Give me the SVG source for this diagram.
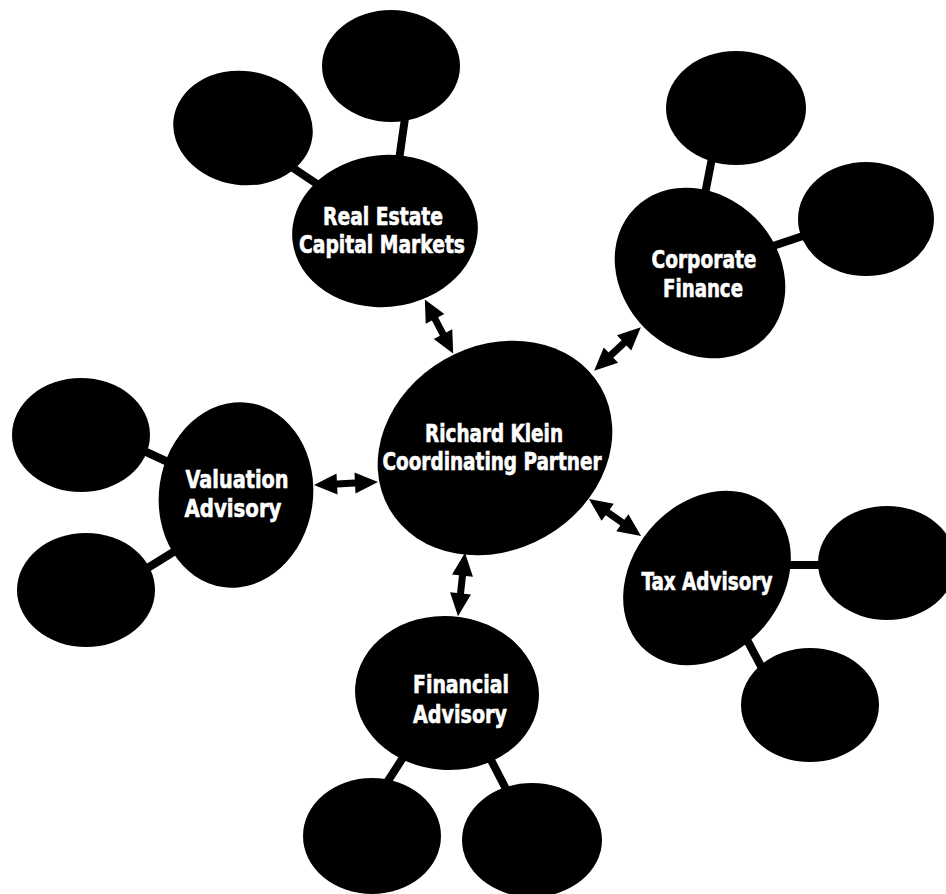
<svg xmlns="http://www.w3.org/2000/svg" xmlns:xlink="http://www.w3.org/1999/xlink" width="946" height="894" viewBox="0 0 946 894">
  <style>
    .blob { fill: #000; }
    .link { stroke: #000; stroke-width: 8; fill: none; stroke-linecap: butt; }
    .lbl { fill: #fff; stroke: #fff; stroke-width: 0.6; font-family: "Liberation Sans Narrow", "Arial Narrow", "DejaVu Sans Condensed", "Liberation Sans", sans-serif; font-weight: bold; font-size: 25px; text-anchor: middle; }
    .arrow { fill: #000; }
  </style>
  <defs>
    <!-- double-headed arrow, 64 long, centred on the origin along x -->
    <path id="dbl" d="M-32,0 L-9,-10.5 L-9,-3.5 L9,-3.5 L9,-10.5 L32,0 L9,10.5 L9,3.5 L-9,3.5 L-9,10.5 Z"/>
  </defs>

  <rect width="946" height="894" fill="#fff"/>

  <!-- connectors: stems to satellite bubbles and arrows to the partner -->
  <g id="connectors">
    <line class="link" x1="405" y1="118" x2="399" y2="160"/>
    <line class="link" x1="290" y1="166" x2="320" y2="186"/>
    <line class="link" x1="712" y1="158" x2="705" y2="194"/>
    <line class="link" x1="806" y1="235" x2="770" y2="247"/>
    <line class="link" x1="142" y1="450" x2="170" y2="463"/>
    <line class="link" x1="146" y1="569" x2="175" y2="551"/>
    <line class="link" x1="786" y1="565" x2="822" y2="565"/>
    <line class="link" x1="746" y1="638" x2="762" y2="668"/>
    <line class="link" x1="404" y1="756" x2="386" y2="784"/>
    <line class="link" x1="491" y1="760" x2="506" y2="789"/>

    <use class="arrow" xlink:href="#dbl" transform="translate(439,326.5) rotate(62.2) scale(0.95,1)"/>
    <use class="arrow" xlink:href="#dbl" transform="translate(617.5,349) rotate(-43.1)"/>
    <use class="arrow" xlink:href="#dbl" transform="translate(615,517.5) rotate(35.4)"/>
    <use class="arrow" xlink:href="#dbl" transform="translate(346,483.5) rotate(-2.7)"/>
    <use class="arrow" xlink:href="#dbl" transform="translate(461.5,584.5) rotate(96.3)"/>
  </g>

  <!-- central partner -->
  <g id="partner">
    <ellipse class="blob" cx="495" cy="448" rx="122" ry="102" transform="rotate(-30 495 448)"/>
    <text class="lbl" x="494" y="442" textLength="138" lengthAdjust="spacingAndGlyphs">Richard Klein</text>
    <text class="lbl" x="492" y="470" textLength="219" lengthAdjust="spacingAndGlyphs">Coordinating Partner</text>
  </g>

  <!-- Real Estate Capital Markets -->
  <g id="real-estate">
    <ellipse class="blob" cx="385" cy="231" rx="93" ry="76" transform="rotate(-6 385 231)"/>
    <text class="lbl" x="383" y="225" textLength="120" lengthAdjust="spacingAndGlyphs">Real Estate</text>
    <text class="lbl" x="382" y="253" textLength="166" lengthAdjust="spacingAndGlyphs">Capital Markets</text>
  </g>
  <g id="real-estate-a"><ellipse class="blob" cx="243" cy="128" rx="70" ry="57" transform="rotate(8 243 128)"/></g>
  <g id="real-estate-b"><ellipse class="blob" cx="391" cy="66" rx="69" ry="56"/></g>

  <!-- Corporate Finance -->
  <g id="corporate-finance">
    <ellipse class="blob" cx="700" cy="273" rx="92" ry="78" transform="rotate(45 700 273)"/>
    <text class="lbl" x="704" y="268" textLength="105" lengthAdjust="spacingAndGlyphs">Corporate</text>
    <text class="lbl" x="703" y="297" textLength="80" lengthAdjust="spacingAndGlyphs">Finance</text>
  </g>
  <g id="corporate-finance-a"><ellipse class="blob" cx="736" cy="108" rx="70" ry="57"/></g>
  <g id="corporate-finance-b"><ellipse class="blob" cx="866" cy="219" rx="68" ry="57"/></g>

  <!-- Valuation Advisory -->
  <g id="valuation">
    <ellipse class="blob" cx="236" cy="495" rx="77" ry="93" transform="rotate(8 236 495)"/>
    <text class="lbl" x="237" y="488" textLength="103" lengthAdjust="spacingAndGlyphs">Valuation</text>
    <text class="lbl" x="233" y="517" textLength="97" lengthAdjust="spacingAndGlyphs">Advisory</text>
  </g>
  <g id="valuation-a"><ellipse class="blob" cx="81" cy="435" rx="69" ry="57"/></g>
  <g id="valuation-b"><ellipse class="blob" cx="86" cy="590" rx="69" ry="57"/></g>

  <!-- Tax Advisory -->
  <g id="tax">
    <ellipse class="blob" cx="707" cy="578" rx="95" ry="75" transform="rotate(-50 707 578)"/>
    <text class="lbl" x="707" y="590" textLength="131" lengthAdjust="spacingAndGlyphs">Tax Advisory</text>
  </g>
  <g id="tax-a"><ellipse class="blob" cx="887" cy="563" rx="69" ry="57"/></g>
  <g id="tax-b"><ellipse class="blob" cx="810" cy="705" rx="69" ry="57"/></g>

  <!-- Financial Advisory -->
  <g id="financial">
    <ellipse class="blob" cx="447" cy="693" rx="92" ry="77" transform="rotate(4 447 693)"/>
    <text class="lbl" x="461" y="693" textLength="96" lengthAdjust="spacingAndGlyphs">Financial</text>
    <text class="lbl" x="460" y="723" textLength="94" lengthAdjust="spacingAndGlyphs">Advisory</text>
  </g>
  <g id="financial-a"><ellipse class="blob" cx="372" cy="836" rx="69" ry="58"/></g>
  <g id="financial-b"><ellipse class="blob" cx="532" cy="840" rx="70" ry="57"/></g>
</svg>
